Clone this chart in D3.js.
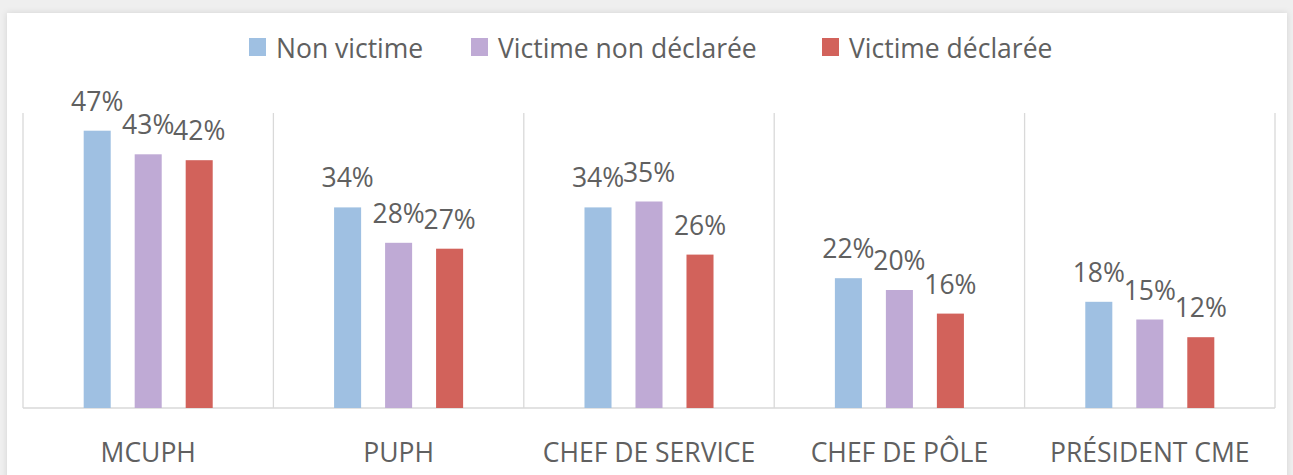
<!DOCTYPE html>
<html lang="fr">
<head>
  <meta charset="UTF-8">
  <title>Victimes par fonction</title>
  <script src="https://d3js.org/d3.v7.min.js"></script>
  <style>
    body { margin:0; background:#efefef; }
    svg { display:block; }
  </style>
</head>
<body>
  <svg width="1293" height="475"></svg>
  <script>
    const categories = ['MCUPH', 'PUPH', 'CHEF DE SERVICE', 'CHEF DE PÔLE', 'PRÉSIDENT CME']
    const series = ['Non victime', 'Victime non déclarée', 'Victime déclarée']
    const nonVictime = [0.47, 0.34, 0.34, 0.22, 0.18]
    const victimeNonDeclaree = [0.43, 0.28, 0.35, 0.20, 0.15]
    const victimeDeclaree = [0.42, 0.27, 0.26, 0.16, 0.12]
    const colors = ['#9fc0e2', '#bfaad5', '#d2625b']

    const values = [nonVictime, victimeNonDeclaree, victimeDeclaree]
    const data = categories.map((c, i) => ({
      cat: c,
      vals: series.map((s, j) => ({ key: s, value: values[j][i], color: colors[j] }))
    }))

    const width = 1293
    const height = 475
    const margin = {top: 113, bottom: 67, left: 23, right: 18}
    const svg = d3.select('svg')
    const textColor = '#606060'
    const font = "'Open Sans', sans-serif"
    const fontSize = 26.5

    // card with a soft shadow
    const defs = svg.append('defs')
    const filter = defs.append('filter').attr('id', 'shadow')
      .attr('x', '-5%').attr('y', '-5%').attr('width', '110%').attr('height', '110%')
    filter.append('feDropShadow')
      .attr('dx', 0).attr('dy', 0).attr('stdDeviation', 3)
      .attr('flood-color', '#000').attr('flood-opacity', 0.12)
    svg.append('rect')
      .attr('x', 7).attr('y', 13)
      .attr('width', 1280).attr('height', height)
      .attr('fill', '#fff')
      .attr('filter', 'url(#shadow)')

    const x0 = d3.scaleBand()
      .domain(categories)
      .range([margin.left, width - margin.right])
      .padding(0)
    const x1 = d3.scaleBand()
      .domain(series)
      .range([0, x0.bandwidth()])
      .paddingInner(0.47)
      .paddingOuter(1.19)
    const y = d3.scaleLinear()
      .domain([0, 0.5])
      .range([height - margin.bottom, margin.top])

    // vertical separators
    const bounds = categories.map(c => x0(c)).concat([x0.range()[1]])
    svg.append('g').selectAll('line')
      .data(bounds)
      .enter().append('line')
      .attr('x1', d => d).attr('x2', d => d)
      .attr('y1', margin.top).attr('y2', y(0))
      .attr('stroke', '#d9d9d9').attr('stroke-width', 1.3)

    // baseline
    svg.append('line')
      .attr('x1', margin.left).attr('x2', width - margin.right)
      .attr('y1', y(0)).attr('y2', y(0))
      .attr('stroke', '#d9d9d9').attr('stroke-width', 1.3)

    const groups = svg.selectAll('g.cat')
      .data(data)
      .enter().append('g')
      .attr('class', 'cat')
      .attr('transform', d => 'translate(' + x0(d.cat) + ',0)')

    groups.selectAll('rect')
      .data(d => d.vals)
      .enter().append('rect')
      .attr('x', d => x1(d.key))
      .attr('width', x1.bandwidth())
      .attr('y', d => y(d.value))
      .attr('height', d => y(0) - y(d.value))
      .attr('fill', d => d.color)

    groups.selectAll('text')
      .data(d => d.vals)
      .enter().append('text')
      .attr('x', d => x1(d.key) + x1.bandwidth() / 2)
      .attr('y', d => y(d.value) - 20)
      .attr('text-anchor', 'middle')
      .attr('font-family', font)
      .attr('font-size', fontSize)
      .attr('fill', textColor)
      .text(d => Math.round(d.value * 100) + '%')

    // category axis
    const xAxis = d3.axisBottom(x0).tickSize(0).tickPadding(0)
    const axisG = svg.append('g')
      .attr('transform', 'translate(0,' + (y(0) + 54) + ')')
      .call(xAxis)
    axisG.select('.domain').remove()
    axisG.selectAll('text')
      .attr('dy', 0)
      .attr('font-family', font)
      .attr('font-size', fontSize)
      .attr('fill', textColor)

    // legend
    const legendX = [249, 471, 822]
    const legend = svg.append('g')
    series.forEach((s, i) => {
      const g = legend.append('g').attr('transform', 'translate(' + legendX[i] + ',38)')
      g.append('rect').attr('width', 17).attr('height', 18).attr('fill', colors[i])
      g.append('text')
        .attr('x', 27).attr('y', 20)
        .attr('font-family', font)
        .attr('font-size', fontSize)
        .attr('fill', textColor)
        .text(s)
    })
  </script>
</body>
</html>
